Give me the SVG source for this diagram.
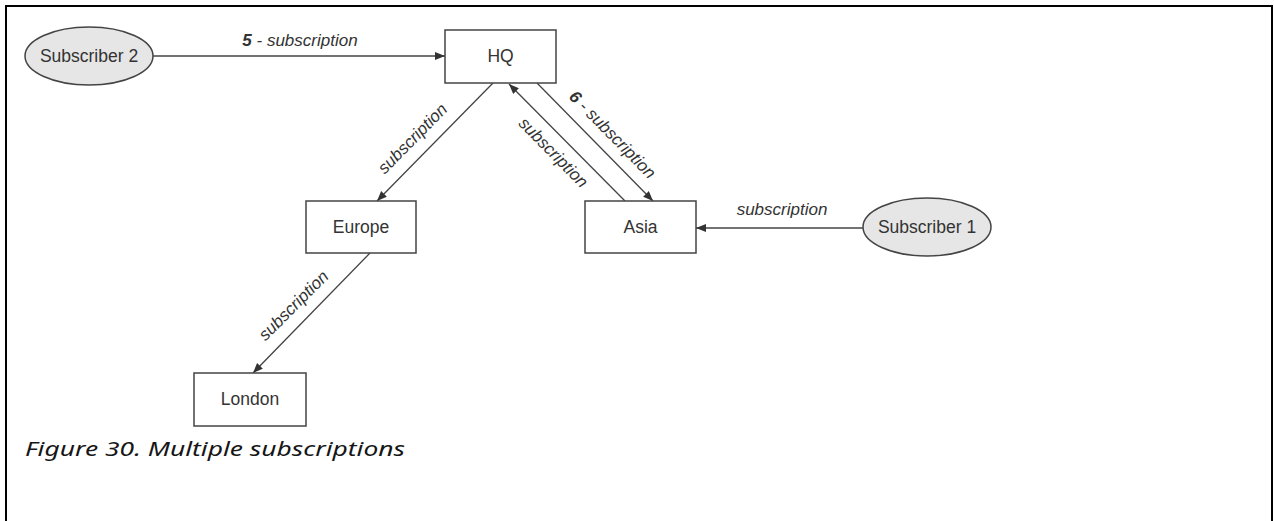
<svg xmlns="http://www.w3.org/2000/svg" width="1274" height="521" viewBox="0 0 1274 521">
<style>
.frame{fill:none;stroke:#000;stroke-width:2}
.box{fill:#fff;stroke:#444;stroke-width:1.5}
.oval{fill:#e6e6e6;stroke:#444;stroke-width:1.5}
.lbl{font-family:"Liberation Sans",Arial,sans-serif;font-size:17.5px;fill:#333;text-anchor:middle}
.elbl{font-family:"Liberation Sans",Arial,sans-serif;font-size:17px;fill:#333;font-style:italic;text-anchor:middle}
.conn{fill:none;stroke:#444;stroke-width:1.3;marker-end:url(#arr)}
.cap{font-family:"Noto Sans","Open Sans",sans-serif;font-style:italic;font-size:20px;fill:#161616}
</style>
<defs>
<marker id="arr" markerUnits="userSpaceOnUse" markerWidth="12" markerHeight="10" refX="10" refY="4" orient="auto">
<path d="M0,0 L10,4 L0,8 z" fill="#333"/>
</marker>
</defs>
<rect width="1274" height="521" fill="#fff"/>
<path class="frame" d="M6,521 V6 H1272 V521"/>
<g id="connectors">
<line class="conn" x1="153" y1="56" x2="445" y2="56"/>
<line class="conn" x1="493" y1="83" x2="377" y2="201"/>
<line class="conn" x1="625" y1="201" x2="509" y2="84"/>
<line class="conn" x1="537" y1="83" x2="653" y2="201"/>
<line class="conn" x1="863" y1="228" x2="696" y2="228"/>
<line class="conn" x1="370" y1="253" x2="253" y2="373"/>
<text class="elbl" x="300" y="46"><tspan font-weight="bold">5</tspan> - subscription</text>
<text class="elbl" transform="translate(413,139) rotate(-45.5)" y="5">subscription</text>
<text class="elbl" transform="translate(553,153) rotate(45.5)" y="5">subscription</text>
<text class="elbl" transform="translate(612,135) rotate(45.5)" y="5"><tspan font-weight="bold">6</tspan> - subscription</text>
<text class="elbl" x="782" y="215">subscription</text>
<text class="elbl" transform="translate(294,306) rotate(-45)" y="5">subscription</text>
</g>
<g id="subscriber2">
<ellipse class="oval" cx="89" cy="56" rx="64" ry="29"/>
<text class="lbl" x="89" y="62">Subscriber 2</text>
</g>
<g id="hq">
<rect class="box" x="445" y="30" width="111" height="53"/>
<text class="lbl" x="500.5" y="62">HQ</text>
</g>
<g id="europe">
<rect class="box" x="306" y="201" width="110" height="52"/>
<text class="lbl" x="361" y="233">Europe</text>
</g>
<g id="asia">
<rect class="box" x="585" y="201" width="111" height="52"/>
<text class="lbl" x="640.5" y="233">Asia</text>
</g>
<g id="subscriber1">
<ellipse class="oval" cx="927" cy="227" rx="64" ry="29"/>
<text class="lbl" x="927" y="233">Subscriber 1</text>
</g>
<g id="london">
<rect class="box" x="194" y="373" width="112" height="53"/>
<text class="lbl" x="250" y="405">London</text>
</g>
<g id="caption">
<text class="cap" x="25" y="456" textLength="380" lengthAdjust="spacingAndGlyphs">Figure 30. Multiple subscriptions</text>
</g>
</svg>
